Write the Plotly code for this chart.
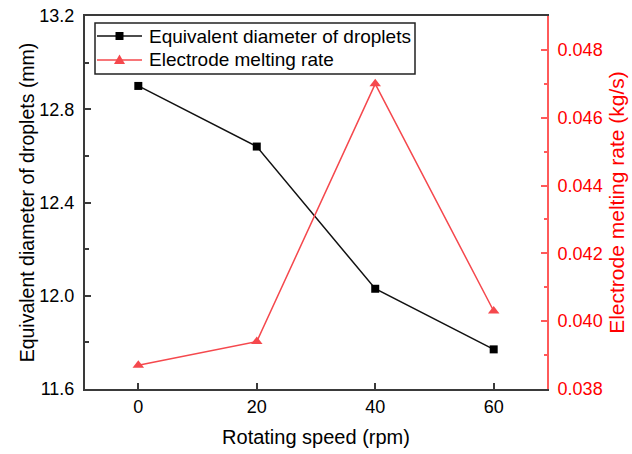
import plotly.graph_objects as go

# Rotating speed of the electrode (rpm)
speed = [0, 20, 40, 60]
# Equivalent diameter of droplets (mm)
droplet_diameter = [12.90, 12.64, 12.03, 11.77]
# Electrode melting rate (kg/s)
melting_rate = [0.0387, 0.0394, 0.0470, 0.0403]

series_names = ["Equivalent diameter of droplets", "Electrode melting rate"]

x_ticks = [0, 20, 40, 60]
y1_ticks = [11.6, 12.0, 12.4, 12.8, 13.2]
y1_labels = ["11.6", "12.0", "12.4", "12.8", "13.2"]
y2_ticks = [0.038, 0.040, 0.042, 0.044, 0.046, 0.048]
y2_labels = ["0.038", "0.040", "0.042", "0.044", "0.046", "0.048"]

FONT = "Liberation Sans, Arial, sans-serif"
AXIS_GREY = "#3a3a3a"
RED = "#ff0000"
RED_LINE = "#f5484d"
RED_AXIS = "#ff5a5a"
BLACK_LINE = "#111111"

# plot area in pixels (used to size the hand-drawn legend box)
W, H = 632, 454
ML, MR, MT, MB = 85, 85, 16, 65
PW, PH = W - ML - MR, H - MT - MB


def px_x(p):
    return (p - ML) / PW


def px_y(p):
    return 1 - (p - MT) / PH


fig = go.Figure()

fig.add_trace(go.Scatter(
    x=speed, y=droplet_diameter,
    mode="lines+markers",
    name=series_names[0],
    line=dict(color=BLACK_LINE, width=1.5),
    marker=dict(symbol="square", size=8, color="#000000"),
    yaxis="y", showlegend=False,
))

fig.add_trace(go.Scatter(
    x=speed, y=melting_rate,
    mode="lines+markers",
    name=series_names[1],
    line=dict(color=RED_LINE, width=1.5),
    marker=dict(symbol="triangle-up", size=10, color=RED_LINE),
    yaxis="y2", showlegend=False,
))

# legend box drawn with shapes and annotations
shapes = [dict(type="rect", xref="paper", yref="paper",
               x0=px_x(95), x1=px_x(415), y0=px_y(74), y1=px_y(23),
               line=dict(color="#222222", width=1.5), fillcolor="white",
               layer="above")]
annotations = []
rows = [(36, BLACK_LINE, "square"), (60, RED_LINE, "triangle")]
for (ry, col, sym), name in zip(rows, series_names):
    shapes.append(dict(type="line", xref="paper", yref="paper",
                       x0=px_x(97), x1=px_x(142), y0=px_y(ry), y1=px_y(ry),
                       line=dict(color=col, width=1.5), layer="above"))
    cx = 119.5
    if sym == "square":
        s = 4
        path = (f"M{px_x(cx - s)},{px_y(ry - s)} L{px_x(cx + s)},{px_y(ry - s)} "
                f"L{px_x(cx + s)},{px_y(ry + s)} L{px_x(cx - s)},{px_y(ry + s)} Z")
        fill = "#000000"
    else:
        path = (f"M{px_x(cx)},{px_y(ry - 5.5)} L{px_x(cx + 5.5)},{px_y(ry + 4)} "
                f"L{px_x(cx - 5.5)},{px_y(ry + 4)} Z")
        fill = col
    shapes.append(dict(type="path", xref="paper", yref="paper", path=path,
                       fillcolor=fill, line=dict(width=0), layer="above"))
    annotations.append(dict(xref="paper", yref="paper", x=px_x(147), y=px_y(ry),
                            xanchor="left", yanchor="middle", showarrow=False,
                            text=name,
                            font=dict(family=FONT, size=19, color="#000000")))

fig.update_layout(
    width=W, height=H,
    margin=dict(l=ML, r=MR, t=MT, b=MB, autoexpand=False),
    paper_bgcolor="white",
    plot_bgcolor="white",
    font=dict(family=FONT, size=18, color="#000000"),
    showlegend=False,
    shapes=shapes,
    annotations=annotations,
    xaxis=dict(
        range=[-9, 69],
        automargin=False,
        tickvals=x_ticks,
        ticktext=[str(v) for v in x_ticks],
        ticks="inside", ticklen=6, tickwidth=1.5, tickcolor=AXIS_GREY,
        showline=True, linecolor=AXIS_GREY, linewidth=2,
        mirror=True,
        showgrid=False, zeroline=False,
        tickfont=dict(family=FONT, size=18, color="#000000"),
        title=dict(text="Rotating speed (rpm)",
                   font=dict(family=FONT, size=20, color="#000000"),
                   standoff=14),
    ),
    yaxis=dict(
        range=[11.6, 13.2],
        automargin=False,
        tickvals=y1_ticks,
        ticktext=y1_labels,
        ticks="inside", ticklen=6, tickwidth=1.5, tickcolor=AXIS_GREY,
        minor=dict(ticks="inside", ticklen=3.5, tickwidth=1.5,
                   tickcolor=AXIS_GREY, dtick=0.2, tick0=11.6),
        showline=True, linecolor=AXIS_GREY, linewidth=2,
        showgrid=False, zeroline=False,
        ticklabelstandoff=5,
        tickfont=dict(family=FONT, size=18, color="#000000"),
        title=dict(text="Equivalent diameter of droplets (mm)",
                   font=dict(family=FONT, size=19.5, color="#000000"),
                   standoff=0),
    ),
    yaxis2=dict(
        range=[0.038, 0.049],
        automargin=False,
        overlaying="y", side="right",
        tickvals=y2_ticks,
        ticktext=y2_labels,
        ticks="inside", ticklen=6, tickwidth=1.5, tickcolor=RED_AXIS,
        minor=dict(ticks="inside", ticklen=3.5, tickwidth=1.5,
                   tickcolor=RED_AXIS, dtick=0.001, tick0=0.038),
        showline=True, linecolor=RED_AXIS, linewidth=2,
        showgrid=False, zeroline=False,
        ticklabelstandoff=5,
        tickfont=dict(family=FONT, size=18, color=RED),
        title=dict(text="Electrode melting rate (kg/s)",
                   font=dict(family=FONT, size=21, color=RED),
                   standoff=8),
    ),
)

fig.write_html("out.html")
